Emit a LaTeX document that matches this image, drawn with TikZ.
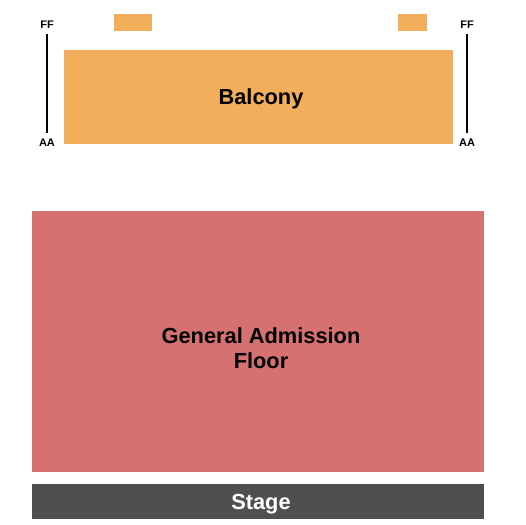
\documentclass[tikz,border=0pt]{standalone}
\usepackage{fontspec}
\setmainfont{Liberation Sans}
\definecolor{balc}{HTML}{F2AE5A}
\definecolor{floorc}{HTML}{D77070}
\definecolor{stagec}{HTML}{4F4F4F}
\begin{document}
\begin{tikzpicture}[x=1bp,y=-1bp,
  big/.style={font=\fontsize{21.8bp}{25bp}\selectfont\bfseries,align=center},
  rowlab/.style={font=\fontsize{11bp}{13bp}\selectfont\bfseries,inner sep=0pt},
  rowline/.style={line width=1.4bp,black}]
\useasboundingbox (0,0) rectangle (525,525);
\fill[white] (0,0) rectangle (525,525);
% small boxes
\fill[balc] (114,14) rectangle (152,31);
\fill[balc] (398,14) rectangle (427,31);
% balcony
\fill[balc] (64,50) rectangle (453,144);
\node[big] (balcony) at (261,98.5) {Balcony};
% floor
\fill[floorc] (32,211) rectangle (484,472);
\node[big] (ga) at (261,348.5) {General Admission\\Floor};
% stage
\fill[stagec] (32,484) rectangle (484,519);
\node[big,text=white] (stage) at (261,504.5) {Stage};
% row markers
\node[rowlab] (ffl) at (47,25) {FF};
\node[rowlab] (aal) at (47,142.5) {AA};
\draw[rowline] (47,34) -- (47,133);
\node[rowlab] (ffr) at (467,25) {FF};
\node[rowlab] (aar) at (467,142.5) {AA};
\draw[rowline] (467,34) -- (467,133);
\end{tikzpicture}
\end{document}
